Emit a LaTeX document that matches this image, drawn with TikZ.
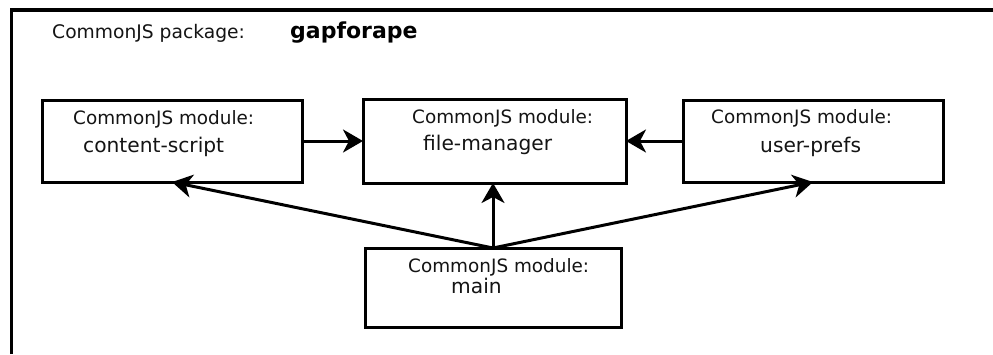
\documentclass[tikz,border=0pt]{standalone}
\usepackage{fontspec}
\setmainfont{DejaVu Sans}
\usetikzlibrary{arrows.meta}
\tikzset{
  modbox/.style={draw=black, line width=3pt, fill=white, inner sep=0pt, outer sep=0pt},
  hdr/.style={anchor=base west, inner sep=0pt, font=\fontsize{18.4}{22}\selectfont, text=black!92},
  modname/.style={anchor=base west, inner sep=0pt, font=\fontsize{20.2}{24}\selectfont, text=black!92},
  link/.style={line width=3pt, -{Stealth[length=20pt, width=23pt, inset=6pt]}},
}
\begin{document}
\begin{tikzpicture}[x=1pt, y=-1pt]
  \useasboundingbox (0,0) rectangle (993,354);
  % package frame: left and top edges
  \draw[line width=3.2pt] (11.5,354) -- (11.5,10) -- (993,10);
  \node[anchor=base west, inner sep=0pt, font=\fontsize{18.7}{22}\selectfont, text=black!92] (pkg) at (52,38) {CommonJS package:};
  \node[anchor=base west, inner sep=0pt, font=\fontsize{22}{26}\bfseries\selectfont] (pkgname) at (290,38) {gapforape};

  % module boxes
  \node[modbox, minimum width=260pt, minimum height=82pt] (cs) at (172,141) {};
  \node[modbox, minimum width=263pt, minimum height=84pt] (fm) at (494.5,141) {};
  \node[modbox, minimum width=260pt, minimum height=82pt] (up) at (813,141) {};
  \node[modbox, minimum width=256pt, minimum height=79pt] (mn) at (493,287.5) {};

  % module labels
  \node[hdr] (cs1) at (73,124) {CommonJS module:};
  \node[modname] (cs2) at (83,152) {content-script};
  \node[hdr] (fm1) at (412,123) {CommonJS module:};
  \node[modname] (fm2) at (423,150) {file-manager};
  \node[hdr] (up1) at (711,123) {CommonJS module:};
  \node[modname] (up2) at (760,152) {user-prefs};
  \node[hdr] (mn1) at (408,272) {CommonJS module:};
  \node[modname] (mn2) at (451,293) {main};

  % dependencies
  \draw[link] (cs.east) -- (fm.west);
  \draw[link] (up.west) -- (fm.east);
  \draw[link] (mn.north) -- (mn.north |- fm.south);
  \draw[link] (mn.north) -- (cs.south);
  \draw[link] (mn.north) -- (up.south);
\end{tikzpicture}
\end{document}
